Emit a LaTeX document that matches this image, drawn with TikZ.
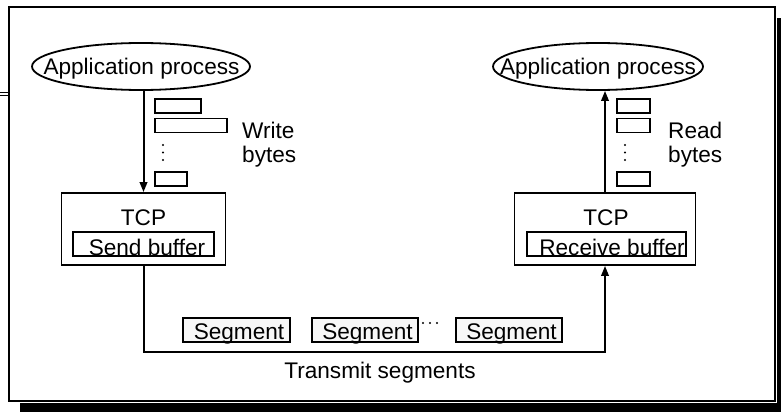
\documentclass[tikz,border=0pt]{standalone}
\usepackage{fontspec}
\setmainfont{Liberation Sans}
\usetikzlibrary{shapes.geometric,arrows.meta}
\tikzset{
  lw/.style={line width=1.8pt},
  appnode/.style={ellipse,draw,lw,inner sep=0pt,minimum height=47pt},
  tcpbox/.style={rectangle,draw,lw,inner sep=0pt,minimum height=72pt},
  bufbox/.style={rectangle,draw,lw,inner sep=0pt,minimum height=24pt},
  bytebox/.style={rectangle,draw,line width=1.6pt,inner sep=0pt,minimum height=14pt},
  segbox/.style={rectangle,draw,line width=1.6pt,fill=black!3,inner sep=0pt,minimum height=24pt,minimum width=107pt},
  lbl/.style={inner sep=0pt,anchor=base},
  arr/.style={line width=2pt,-{Triangle[length=10pt,width=7.5pt]}},
}
\begin{document}
\begin{tikzpicture}[x=1pt,y=-1pt,font=\fontsize{22.6}{25}\selectfont]
\useasboundingbox (0,0) rectangle (781,412);
% frame and shadow
\fill[black] (20,403) rectangle (781,412);
\fill[black] (777,18) rectangle (781,412);
\draw[line width=1.6pt] (9,7) rectangle (775,401);
\draw[line width=1pt] (0,92.7) -- (9,92.7);
\draw[line width=1pt] (0,95.5) -- (9,95.5);

% application processes
\node[appnode,minimum width=218pt] (appL) at (141,66.5) {};
\node[lbl] (appLt) at (141.5,74.5) {Application process};
\node[appnode,minimum width=210pt] (appR) at (598,66.5) {};
\node[lbl] (appRt) at (598,74.5) {Application process};

% TCP boxes
\node[tcpbox,minimum width=164pt] (tcpL) at (143.5,229) {};
\node[lbl] (tcpLt) at (143.5,225) {TCP};
\node[bufbox,minimum width=141pt] (bufL) at (143.5,244) {};
\node[lbl] (bufLt) at (147,255) {Send buffer};

\node[tcpbox,minimum width=181pt] (tcpR) at (605,229) {};
\node[lbl] (tcpRt) at (606,225) {TCP};
\node[bufbox,minimum width=159pt] (bufR) at (606.5,244) {};
\node[lbl] (bufRt) at (612,255) {Receive buffer};

% byte boxes left
\node[bytebox,minimum width=46pt] (bl1) at (178,106) {};
\node[bytebox,minimum width=72pt] (bl2) at (191,125.5) {};
\node[bytebox,minimum width=32pt] (bl3) at (171,179) {};
\foreach \yy in {145,152.5,160} \fill (163,\yy) circle (1.2pt);
\node[lbl,anchor=base west] (wr1) at (242,138) {Write};
\node[lbl,anchor=base west] (wr2) at (242,162) {bytes};

% byte boxes right
\node[bytebox,minimum width=33pt] (br1) at (633.5,106) {};
\node[bytebox,minimum width=33pt] (br2) at (633.5,125.5) {};
\node[bytebox,minimum width=33pt] (br3) at (633.5,179) {};
\foreach \yy in {145,152.5,160} \fill (625,\yy) circle (1.2pt);
\node[lbl,anchor=base west] (rd1) at (668,138) {Read};
\node[lbl,anchor=base west] (rd2) at (668,162) {bytes};

% arrows
\draw[arr] (tcpL.north |- appL.south) -- (tcpL.north);
\draw[arr] (tcpR.north) -- (tcpR.north |- appR.south);

% segments
\coordinate (bot) at (0,352);
\draw[arr] (tcpL.south) -- (tcpL.south |- bot) -- (tcpR.south |- bot) -- (tcpR.south);
\node[segbox] (seg1) at (236.5,330) {};
\node[lbl] (seg1t) at (239,339) {Segment};
\node[segbox,minimum width=106pt] (seg2) at (365,330) {};
\node[lbl] (seg2t) at (367.5,339) {Segment};
\node[segbox,minimum width=106pt] (seg3) at (509,330) {};
\node[lbl] (seg3t) at (511.5,339) {Segment};
\foreach \xx in {423,430,437} \fill (\xx,323) circle (1.2pt);
\node[lbl] (trans) at (380,378) {Transmit segments};
\end{tikzpicture}
\end{document}
